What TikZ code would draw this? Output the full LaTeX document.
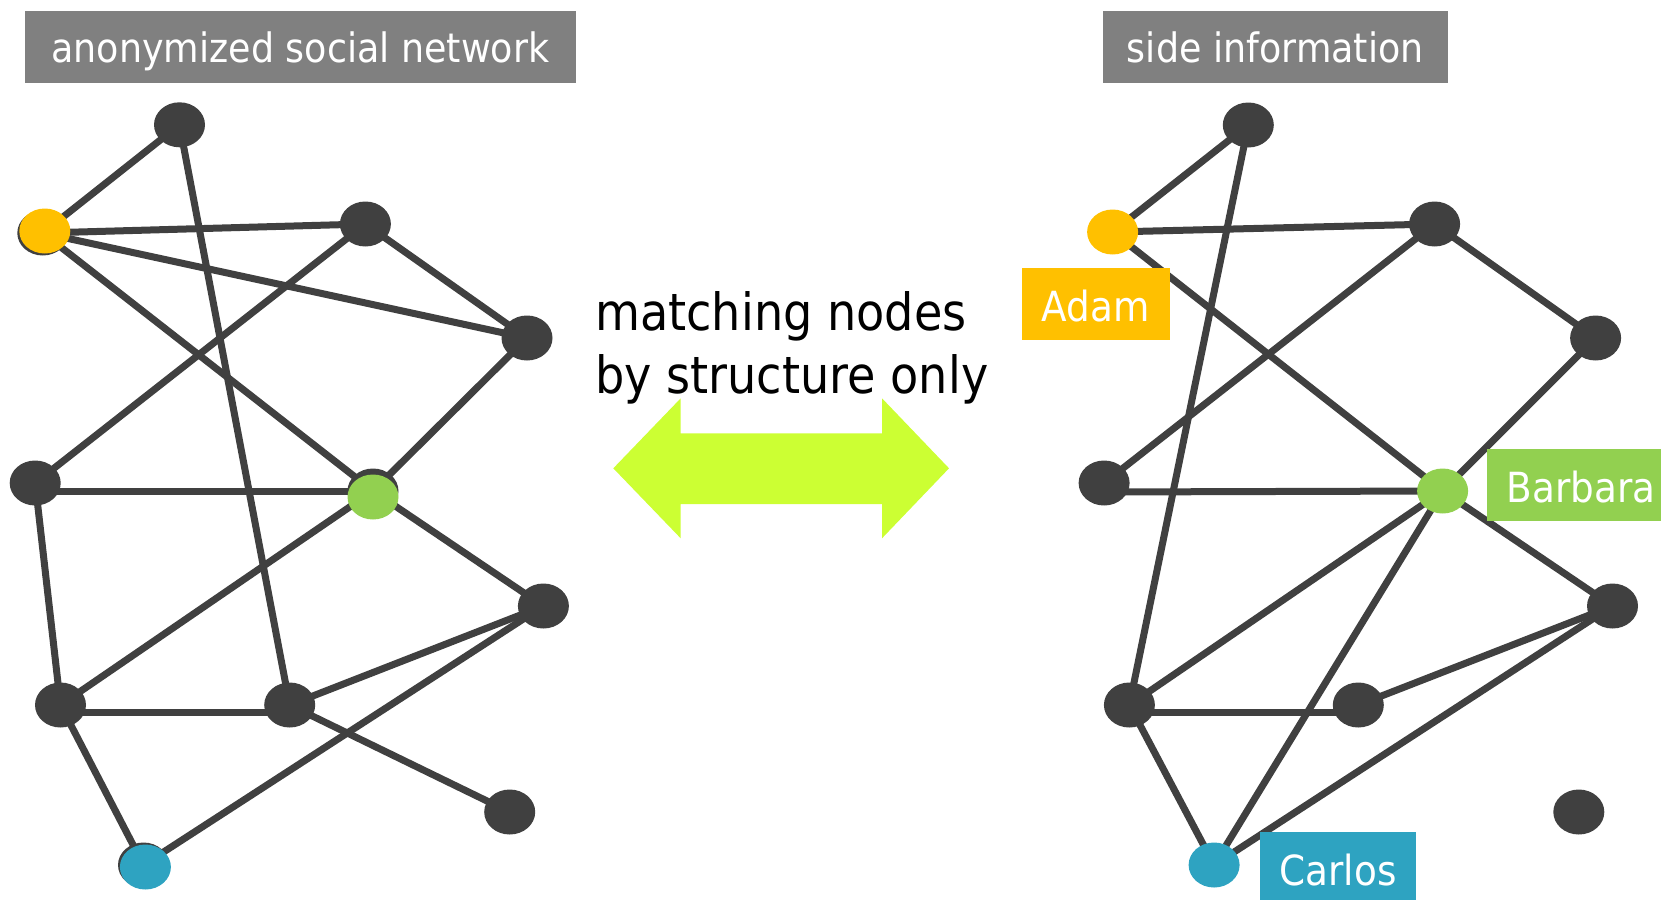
\documentclass[tikz,border=0pt]{standalone}
\usepackage{fontspec}
\newfontfamily\labelfont{DejaVu Sans}[FakeStretch=0.9]
\usetikzlibrary{shapes.geometric,backgrounds}

\definecolor{nodedark}{HTML}{404040}
\definecolor{titlegray}{HTML}{808080}
\definecolor{adamyellow}{HTML}{FFC000}
\definecolor{barbgreen}{HTML}{92D050}
\definecolor{carlosblue}{HTML}{2EA3C1}
\definecolor{arrowlime}{HTML}{CCFF33}

\tikzset{
  vertex/.style={ellipse, fill=nodedark, minimum width=51pt, minimum height=45pt, inner sep=0pt},
  link/.style={draw=nodedark, line width=7pt},
  titlebox/.style={fill=titlegray, text=white, inner sep=0pt, text height=52pt, text depth=19.7pt,
    font=\labelfont\fontsize{40.5}{48}\selectfont, anchor=base},
  namebox/.style={text=white, inner sep=0pt, text height=53pt, text depth=19pt,
    font=\labelfont\fontsize{41.5}{48}\selectfont, anchor=base},
  caption/.style={inner sep=0pt, anchor=base west, font=\labelfont\fontsize{51.3}{60}\selectfont}
}

\begin{document}
\begin{tikzpicture}[x=1pt,y=-1pt]
\useasboundingbox (0,0) rectangle (1661,899);

% ---------- anonymized network ----------
\node[titlebox, minimum width=551pt] (ltitle) at (300.4,63) {anonymized social network};

\node[vertex] (L1) at (179.5,124.8) {};
\node[vertex] (L2) at (42.8,233) {};
\node[vertex, fill=adamyellow] (L2top) at (44.8,231) {};
\node[vertex] (L3) at (365.4,224) {};
\node[vertex] (L4) at (527,338) {};
\node[vertex] (L5) at (35.2,483) {};
\node[vertex] (L6) at (373,491) {};
\node[vertex, fill=barbgreen] (L6top) at (373,497) {};
\node[vertex] (L7) at (543.4,606) {};
\node[vertex] (L8) at (60.5,705) {};
\node[vertex] (L9) at (289.7,705) {};
\node[vertex] (L10) at (509.7,812) {};
\node[vertex] (L11) at (143.5,865) {};
\node[vertex, fill=carlosblue] (L11top) at (145.4,867) {};

\begin{pgfonlayer}{background}
\draw[link] (L1.center) -- (L2.center);
\draw[link] (L1.center) -- (L9.center);
\draw[link] (L2.center) -- (L3.center);
\draw[link] (L2.center) -- (L4.center);
\draw[link] (L2.center) -- (L6.center);
\draw[link] (L3.center) -- (L4.center);
\draw[link] (L3.center) -- (L5.center);
\draw[link] (L4.center) -- (L6.center);
\draw[link] ([yshift=-8pt]L5.center) -- (L6.center);
\draw[link] (L5.center) -- (L8.center);
\draw[link] (L6.center) -- (L7.center);
\draw[link] (L6.center) -- (L8.center);
\draw[link] ([yshift=-7pt]L8.center) -- ([yshift=-7pt]L9.center);
\draw[link] (L8.center) -- (L11.center);
\draw[link] (L9.center) -- (L7.center);
\draw[link] (L9.center) -- (L10.center);
\draw[link] (L7.center) -- (L11.center);
\end{pgfonlayer}

% ---------- caption and double arrow ----------
\node[caption] (cap1) at (595,330) {matching nodes};
\node[caption] (cap2) at (595,393) {by structure only};

\fill[arrowlime] (613.3,468.3) -- (680.7,398.3) -- (680.7,433.3) -- (882,433.3)
  -- (882,398.3) -- (949,468.3) -- (882,538.3) -- (882,504) -- (680.7,504)
  -- (680.7,538.3) -- cycle;

% ---------- side information ----------
\node[titlebox, minimum width=344.8pt] (rtitle) at (1275.3,63) {side information};

\node[vertex] (R1) at (1248.3,125) {};
\node[vertex, fill=adamyellow] (R2) at (1112.6,232) {};
\node[vertex] (R3) at (1434.6,224) {};
\node[vertex] (R4) at (1595.6,338) {};
\node[vertex] (R5) at (1104.1,483) {};
\node[vertex, fill=barbgreen] (R6) at (1442.6,491) {};
\node[vertex] (R7) at (1612.5,606) {};
\node[vertex] (R8) at (1129.4,705) {};
\node[vertex] (R9) at (1358.3,705) {};
\node[vertex] (R10) at (1578.8,812) {};
\node[vertex, fill=carlosblue] (R11) at (1214.1,865) {};

\begin{pgfonlayer}{background}
\draw[link] (R1.center) -- (R2.center);
\draw[link] (R1.center) -- (R8.center);
\draw[link] (R2.center) -- (R3.center);
\draw[link] (R2.center) -- (R6.center);
\draw[link] (R3.center) -- (R4.center);
\draw[link] (R3.center) -- (R5.center);
\draw[link] (R4.center) -- (R6.center);
\draw[link] ([yshift=-9pt]R5.center) -- (R6.center);
\draw[link] (R6.center) -- (R7.center);
\draw[link] (R6.center) -- (R8.center);
\draw[link] (R6.center) -- (R11.center);
\draw[link] ([yshift=-7pt]R8.center) -- ([yshift=-7pt]R9.center);
\draw[link] (R8.center) -- (R11.center);
\draw[link] (R9.center) -- (R7.center);
\draw[link] (R7.center) -- (R11.center);
\end{pgfonlayer}

\node[namebox, fill=adamyellow, minimum width=147.6pt] (adam) at (1095.7,321) {Adam};
\node[namebox, fill=barbgreen, minimum width=188pt] (barbara) at (1581,502) {Barbara};
\node[namebox, fill=carlosblue, minimum width=156pt] (carlos) at (1338.1,885) {Carlos};
\end{tikzpicture}
\end{document}
